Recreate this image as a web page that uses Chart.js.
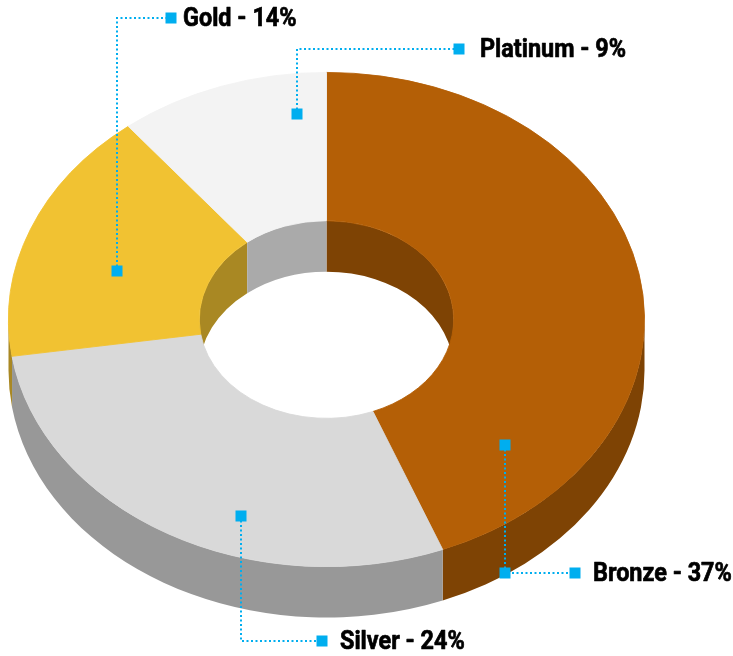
<!DOCTYPE html>
<html>
<head>
<meta charset="utf-8">
<script src="https://cdn.jsdelivr.net/npm/chart.js@4.4.1/dist/chart.umd.min.js"></script>
<style>
  html, body { margin: 0; padding: 0; background: #ffffff; }
  canvas { display: block; }
</style>
</head>
<body>
<canvas id="chart" width="733" height="656"></canvas>
<script>
// Medal mix
const categories = ['Bronze', 'Silver', 'Gold', 'Platinum'];
const shares = [37, 24, 14, 9];

// Face colours and the darker side-wall colours of each slice
const topColors = ['#b45f06', '#d9d9d9', '#f1c232', '#f3f3f3'];
const wallColors = ['#7e4304', '#989898', '#a98823', '#aaaaaa'];

// Tilted ring look: vertical squash, wall thickness and where the ring centre sits
const TILT = 0.777;
const DEPTH = 51;
const CENTER_Y = 319.5;

// Callouts: spot inside each slice (fraction along the arc, fraction of the outer radius)
// and where the label sits
const callouts = [
  { angleFrac: 0.833, radiusFrac: 0.756, labelX: 575, labelY: 573, textX: 593, elbowMark: true },
  { angleFrac: 0.389, radiusFrac: 0.84,  labelX: 322, labelY: 641, textX: 340, elbowMark: false },
  { angleFrac: 0.42,  radiusFrac: 0.686, labelX: 171, labelY: 18,  textX: 183, elbowMark: false },
  { angleFrac: 0.834, radiusFrac: 0.835, labelX: 459, labelY: 49,  textX: 480, elbowMark: false }
];

const CALLOUT_COLOR = '#00aeef';
const LABEL_FONT = 'bold 26px Roboto, "Liberation Sans", sans-serif';
const LABEL_STRETCH = 0.9;

// Fill the band swept by one circular edge (radius r) between angles lo..hi,
// from the face down to the bottom of the wall (in squashed space)
function wallBand(ctx, a, r, lo, hi, drop) {
  const s = Math.max(lo, a.startAngle);
  const e = Math.min(hi, a.endAngle);
  if (e <= s) return;
  ctx.beginPath();
  ctx.arc(a.x, a.y, r, s, e);
  ctx.arc(a.x, a.y + drop, r, e, s, true);
  ctx.closePath();
  ctx.fill();
}

const tiltedRing = {
  id: 'tiltedRing',
  beforeDatasetsDraw(chart) {
    const ctx = chart.ctx;
    const arcs = chart.getDatasetMeta(0).data;
    const cy = arcs[0].y;
    const drop = DEPTH / TILT;

    ctx.save();
    ctx.translate(0, CENTER_Y);
    ctx.scale(1, TILT);
    ctx.translate(0, -cy);
    arcs.forEach((a, i) => {
      ctx.fillStyle = wallColors[i];
      // outer wall: front half of the ring
      wallBand(ctx, a, a.outerRadius, 0, Math.PI, drop);
      // inner wall: back half of the hole
      wallBand(ctx, a, a.innerRadius, -Math.PI, 0, drop);
      wallBand(ctx, a, a.innerRadius, Math.PI, 2 * Math.PI, drop);
    });
    ctx.restore();

    // top face drawn by the doughnut controller, squashed the same way
    ctx.save();
    ctx.translate(0, CENTER_Y);
    ctx.scale(1, TILT);
    ctx.translate(0, -cy);
  },
  afterDatasetsDraw(chart) {
    chart.ctx.restore();
  },
  afterDraw(chart) {
    const ctx = chart.ctx;
    const arcs = chart.getDatasetMeta(0).data;
    callouts.forEach((c, i) => {
      const a = arcs[i];
      const ang = a.startAngle + c.angleFrac * (a.endAngle - a.startAngle);
      const r = a.outerRadius * c.radiusFrac;
      const px = Math.round(a.x + r * Math.cos(ang));
      const py = Math.round(CENTER_Y + r * Math.sin(ang) * TILT);

      ctx.save();
      ctx.strokeStyle = CALLOUT_COLOR;
      ctx.lineWidth = 2;
      ctx.setLineDash([2, 2.5]);
      ctx.beginPath();
      ctx.moveTo(px, py);
      ctx.lineTo(px, c.labelY);
      ctx.lineTo(c.labelX, c.labelY);
      ctx.stroke();
      ctx.setLineDash([]);

      ctx.fillStyle = CALLOUT_COLOR;
      const sq = 11;
      const marks = [[px, py], [c.labelX, c.labelY]];
      if (c.elbowMark) marks.push([px, c.labelY]);
      marks.forEach(([x, y]) => ctx.fillRect(x - sq / 2, y - sq / 2, sq, sq));

      ctx.fillStyle = '#000000';
      ctx.strokeStyle = '#000000';
      ctx.lineWidth = 0.7;
      ctx.lineJoin = 'round';
      ctx.font = LABEL_FONT;
      ctx.textBaseline = 'middle';
      ctx.textAlign = 'left';
      ctx.translate(c.textX, c.labelY + 1);
      ctx.scale(LABEL_STRETCH, 1);
      const text = categories[i] + ' - ' + shares[i] + '%';
      ctx.fillText(text, 0, 0);
      ctx.strokeText(text, 0, 0);
      ctx.restore();
    });
  }
};

new Chart(document.getElementById('chart'), {
  type: 'doughnut',
  data: {
    labels: categories,
    datasets: [{
      data: shares,
      backgroundColor: topColors,
      borderColor: topColors,
      borderWidth: 1,
      hoverOffset: 0
    }]
  },
  options: {
    responsive: false,
    animation: false,
    events: [],
    cutout: '40%',
    layout: { padding: { left: 8, right: 88, top: 9, bottom: 10 } },
    plugins: {
      legend: { display: false },
      tooltip: { enabled: false }
    }
  },
  plugins: [tiltedRing]
});
</script>
</body>
</html>
